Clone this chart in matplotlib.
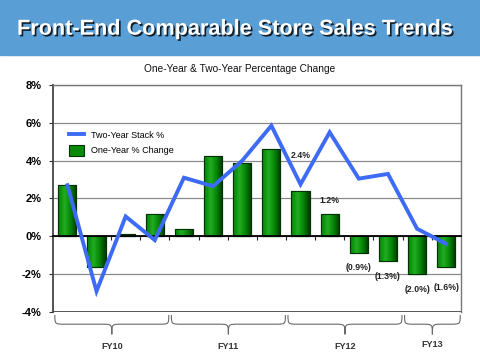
import numpy as np
import matplotlib.pyplot as plt
import matplotlib.patheffects as pe
from matplotlib.patches import Rectangle, PathPatch
from matplotlib.path import Path
from matplotlib.colors import LinearSegmentedColormap
from matplotlib.transforms import blended_transform_factory

plt.rcParams["font.family"] = ["Liberation Sans", "DejaVu Sans"]

# one-year % change per quarter (bars) and two-year stack % (line)
one_year = [2.7, -1.6, 0.1, 1.2, 0.4, 4.25, 3.9, 4.6, 2.4, 1.2, -0.9, -1.3, -2.0, -1.6]
two_year = [2.7, -2.9, 1.05, -0.2, 3.1, 2.65, 4.0, 5.85, 2.75, 5.5, 3.05, 3.3, 0.4, -0.4]
fiscal_years = ["FY10", "FY11", "FY12", "FY13"]
quarters_per_year = [4, 4, 4, 2]
# value labels shown on the last six bars
label_idx = [8, 9, 10, 11, 12, 13]
label_txt = ["2.4%", "1.2%", "(0.9%)", "(1.3%)", "(2.0%)", "(1.6%)"]
label_off = [22, 6, -7, -8, -8, -12]   # points, above/below bar end

yticks = [-4, -2, 0, 2, 4, 6, 8]
ytick_labels = ["-4%", "-2%", "0%", "2%", "4%", "6%", "8%"]

fig = plt.figure(figsize=(4.8, 3.52), dpi=100)
fig.patches.append(Rectangle((0, 0.844), 1, 0.156, transform=fig.transFigure,
                             color="#5A9ED6", zorder=0))
fig.text(0.49, 0.917, "Front-End Comparable Store Sales Trends", ha="center", va="center",
         color="white", fontsize=15.6, fontweight="bold",
         path_effects=[pe.withSimplePatchShadow(offset=(1.2, -1.2), shadow_rgbFace="black", alpha=0.8)])
fig.text(0.5, 0.805, "One-Year & Two-Year Percentage Change", ha="center", va="center",
         fontsize=7.3, color="#111111")

ax = fig.add_axes([0.110, 0.1136, 0.850, 0.645])
x = np.arange(len(one_year))

bars = ax.bar(x, one_year, width=0.62, color="#078a07", edgecolor="#023302",
              linewidth=0.8, zorder=3, label="One-Year % Change")
# horizontal shading on each bar
grad = np.linspace(0, 1, 64)
shade = np.clip(1 - 1.6 * np.abs(grad - 0.35), 0, 1)
cmap = LinearSegmentedColormap.from_list("g", ["#013c01", "#068606", "#22ac22"])
for b in bars:
    x0, w = b.get_x(), b.get_width()
    y0, h = b.get_y(), b.get_height()
    im = ax.imshow(shade[None, :], extent=[x0, x0 + w, y0, y0 + h], cmap=cmap,
                   vmin=0, vmax=1, aspect="auto", zorder=3.5)
    im.set_clip_path(b)
    ax.add_patch(Rectangle((x0, y0), w, h, fill=False, edgecolor="#023302", lw=0.8, zorder=3.6))

ax.plot(x, two_year, color="#3D6BF5", lw=2.8, zorder=5, label="Two-Year Stack %",
        solid_joinstyle="miter")

for i, t, off in zip(label_idx, label_txt, label_off):
    v = one_year[i]
    ax.annotate(t, (x[i], v), xytext=(0, off), textcoords="offset points",
                ha="center", va="bottom" if v > 0 else "top",
                fontsize=6.3, fontweight="bold", color="#222222", zorder=6)

ax.set_xlim(-0.5, len(one_year) - 0.5)
ax.set_ylim(-4, 8)
ax.set_yticks(yticks)
ax.set_yticklabels(ytick_labels, fontsize=8, fontweight="bold")
ax.tick_params(axis="y", length=3, width=0.8, pad=5, color="#333333")
ax.yaxis.grid(True, color="#8a8a8a", lw=0.9, zorder=0)
ax.set_axisbelow(True)

bounds = np.arange(len(one_year) + 1) - 0.5
ax.set_xticks(bounds[1:-1])
ax.set_xticklabels([])
ax.tick_params(axis="x", length=3, width=0.8, direction="out", color="#222222")
ax.spines["bottom"].set_position(("data", 0))
ax.spines["bottom"].set_linewidth(1.3)
ax.spines["bottom"].set_zorder(4)
ax.axhline(-4, color="#555555", lw=1.4, zorder=2)
ax.spines["left"].set_color("#444444")
ax.spines["left"].set_linewidth(1.3)
for s in ("top", "right"):
    ax.spines[s].set_color("#777777")
    ax.spines[s].set_linewidth(1.0)

ax.legend(loc="upper left", bbox_to_anchor=(0.02, 0.84), frameon=False,
          fontsize=6.5, handlelength=1.6, handleheight=1.4, labelspacing=0.6)

# braces under each fiscal year
tr = blended_transform_factory(ax.transData, fig.transFigure)
ytop, ymid, ytip = 0.105, 0.079, 0.050
edges = np.concatenate([[0], np.cumsum(quarters_per_year)]) - 0.5
for fy, a, b in zip(fiscal_years, edges[:-1], edges[1:]):
    a, b = a + 0.07, b - 0.02
    m = (a + b) / 2
    r = 0.35
    verts = [(a, ytop), (a, ymid), (a, ymid), (a + r, ymid),
             (m - r, ymid), (m, ymid), (m, ymid), (m, ytip),
             (m, ymid), (m, ymid), (m + r, ymid),
             (b - r, ymid), (b, ymid), (b, ymid), (b, ytop)]
    codes = [Path.MOVETO, Path.CURVE4, Path.CURVE4, Path.CURVE4,
             Path.LINETO, Path.CURVE4, Path.CURVE4, Path.CURVE4,
             Path.CURVE4, Path.CURVE4, Path.CURVE4,
             Path.LINETO, Path.CURVE4, Path.CURVE4, Path.CURVE4]
    fig.patches.append(PathPatch(Path(verts, codes), transform=tr, fill=False,
                                 edgecolor="#6a6a6a", lw=0.8))
    fig.text(m, 0.016 if fy != "FY13" else 0.022, fy, transform=tr, ha="center", va="center",
             fontsize=6.5, fontweight="bold", color="#333333")

fig.savefig("out.png", dpi=100)
